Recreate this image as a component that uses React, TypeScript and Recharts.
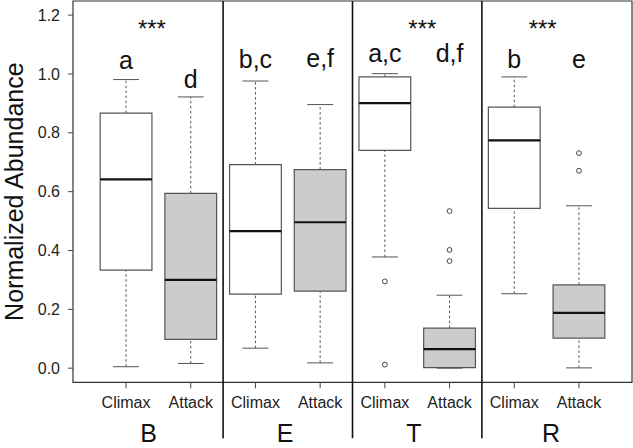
import React from 'react';
import {
  ComposedChart,
  XAxis,
  YAxis,
  Scatter,
  ReferenceArea,
  ReferenceLine,
} from 'recharts';

// one box per treatment, in plotting order (positions 1..8)
const treatments = ['Climax', 'Attack', 'Climax', 'Attack', 'Climax', 'Attack', 'Climax', 'Attack'];
const groups = ['B', 'E', 'T', 'R'];
const groupLabelPos = [1.35, 3.46, 5.45, 7.57];
const separators = [2.5, 4.5, 6.5];

const whiskerLow = [0.005, 0.016, 0.068, 0.018, 0.378, 0.0, 0.253, 0.001];
const q1 = [0.333, 0.098, 0.252, 0.262, 0.74, 0.002, 0.543, 0.102];
const median = [0.642, 0.3, 0.466, 0.496, 0.901, 0.065, 0.774, 0.188];
const q3 = [0.867, 0.594, 0.692, 0.675, 0.99, 0.136, 0.887, 0.283];
const whiskerHigh = [0.981, 0.922, 0.976, 0.896, 1.001, 0.248, 0.99, 0.552];
const outliers: number[][] = [[], [], [], [], [0.295, 0.012], [0.534, 0.402, 0.364], [], [0.731, 0.671]];

const letters = ['a', 'd', 'b,c', 'e,f', 'a,c', 'd,f', 'b', 'e'];
const letterY = [1.016, 0.953, 1.019, 1.025, 1.042, 1.042, 1.019, 1.019];

const sigLabel = '***';
const sigPos = [1.4, 5.58, 7.44];
const sigY = 1.126;

const yTicks = [0, 0.2, 0.4, 0.6, 0.8, 1.0, 1.2];
const xDomain: [number, number] = [0.18, 8.82];
const yDomain: [number, number] = [-0.048, 1.248];

const FONT = '"Liberation Sans", Arial, Helvetica, sans-serif';
const HALF = 0.4;
const CAP = 0.2;

const outlierData = outliers.flatMap((vals, i) => vals.map((v) => ({ x: i + 1, y: v })));
const letterData = letters.map((l, i) => ({ x: i + 1, y: letterY[i], label: l }));
const sigData = sigPos.map((p) => ({ x: p, y: sigY, label: sigLabel }));

const TextMark = (props: any) => (
  <text x={props.cx} y={props.cy} textAnchor="middle" fontSize={props.fs} fontFamily={FONT} fill="#111">
    {props.payload.label}
  </text>
);

const YLabel = (props: any) => {
  const vb = props.viewBox;
  const cy = vb.y + vb.height / 2;
  return (
    <text
      x={23}
      y={cy}
      transform={`rotate(-90, 23, ${cy})`}
      textAnchor="middle"
      fontSize={25}
      fontFamily={FONT}
      fill="#111"
    >
      Normalized Abundance
    </text>
  );
};

export default function App() {
  return (
    <div style={{ position: 'absolute', left: 0, top: 0 }}>
      <ComposedChart width={633} height={448} margin={{ top: 1, right: 1, bottom: 0, left: 0 }}>
        <XAxis
          type="number"
          dataKey="x"
          domain={xDomain}
          allowDataOverflow
          ticks={[1, 2, 3, 4, 5, 6, 7, 8]}
          interval={0}
          tickFormatter={(v) => treatments[Math.round(v) - 1]}
          axisLine={false}
          tickSize={6}
          tickMargin={8}
          height={33}
          tickLine={{ stroke: '#444' }}
          tick={{ fontSize: 16, fontFamily: FONT, fill: '#222' }}
        />
        <XAxis
          xAxisId="grp"
          type="number"
          dataKey="x"
          domain={xDomain}
          allowDataOverflow
          ticks={groupLabelPos}
          interval={0}
          tickFormatter={(v, i) => groups[i]}
          axisLine={false}
          tickLine={false}
          tickSize={0}
          tickMargin={9}
          height={32.7}
          tick={{ fontSize: 25, fontFamily: FONT, fill: '#111' }}
        />
        <YAxis
          type="number"
          dataKey="y"
          domain={yDomain}
          allowDataOverflow
          ticks={yTicks}
          interval={0}
          tickFormatter={(v) => v.toFixed(1)}
          width={73}
          axisLine={false}
          tickSize={5}
          tickMargin={8}
          tickLine={{ stroke: '#444' }}
          tick={{ fontSize: 16, fontFamily: FONT, fill: '#222' }}
          label={<YLabel />}
        />

        <ReferenceArea
          x1={xDomain[0]}
          x2={xDomain[1]}
          y1={yDomain[0]}
          y2={yDomain[1]}
          fill="none"
          fillOpacity={0}
          stroke="#333"
          strokeWidth={1.2}
        />

        {separators.map((s) => (
          <ReferenceLine
            key={'sep' + s}
            segment={[{ x: s, y: -0.238 }, { x: s, y: yDomain[1] }]}
            stroke="#111"
            strokeWidth={1.6}
            ifOverflow="visible"
          />
        ))}

        {treatments.map((t, i) => {
          const p = i + 1;
          return (
            <React.Fragment key={'w' + i}>
              <ReferenceLine
                segment={[{ x: p, y: q3[i] }, { x: p, y: whiskerHigh[i] }]}
                stroke="#555"
                strokeDasharray="2.5 2.5"
                ifOverflow="visible"
              />
              <ReferenceLine
                segment={[{ x: p, y: whiskerLow[i] }, { x: p, y: q1[i] }]}
                stroke="#555"
                strokeDasharray="2.5 2.5"
                ifOverflow="visible"
              />
              <ReferenceLine
                segment={[{ x: p - CAP, y: whiskerHigh[i] }, { x: p + CAP, y: whiskerHigh[i] }]}
                stroke="#555"
                ifOverflow="visible"
              />
              <ReferenceLine
                segment={[{ x: p - CAP, y: whiskerLow[i] }, { x: p + CAP, y: whiskerLow[i] }]}
                stroke="#555"
                ifOverflow="visible"
              />
              <ReferenceArea
                x1={p - HALF}
                x2={p + HALF}
                y1={q1[i]}
                y2={q3[i]}
                fill={t === 'Climax' ? '#ffffff' : '#cccccc'}
                fillOpacity={1}
                stroke="#555"
                strokeWidth={1.2}
                ifOverflow="visible"
              />
              <ReferenceLine
                segment={[{ x: p - HALF, y: median[i] }, { x: p + HALF, y: median[i] }]}
                stroke="#111"
                strokeWidth={2.2}
                ifOverflow="visible"
              />
            </React.Fragment>
          );
        })}

        <Scatter
          data={outlierData}
          dataKey="y"
          isAnimationActive={false}
          shape={(p: any) => <circle cx={p.cx} cy={p.cy} r={2.4} fill="none" stroke="#444" strokeWidth={1} />}
        />
        <Scatter
          data={letterData}
          dataKey="y"
          isAnimationActive={false}
          shape={(p: any) => <TextMark {...p} fs={25} />}
        />
        <Scatter
          data={sigData}
          dataKey="y"
          isAnimationActive={false}
          shape={(p: any) => <TextMark {...p} fs={24} />}
        />
      </ComposedChart>
    </div>
  );
}
